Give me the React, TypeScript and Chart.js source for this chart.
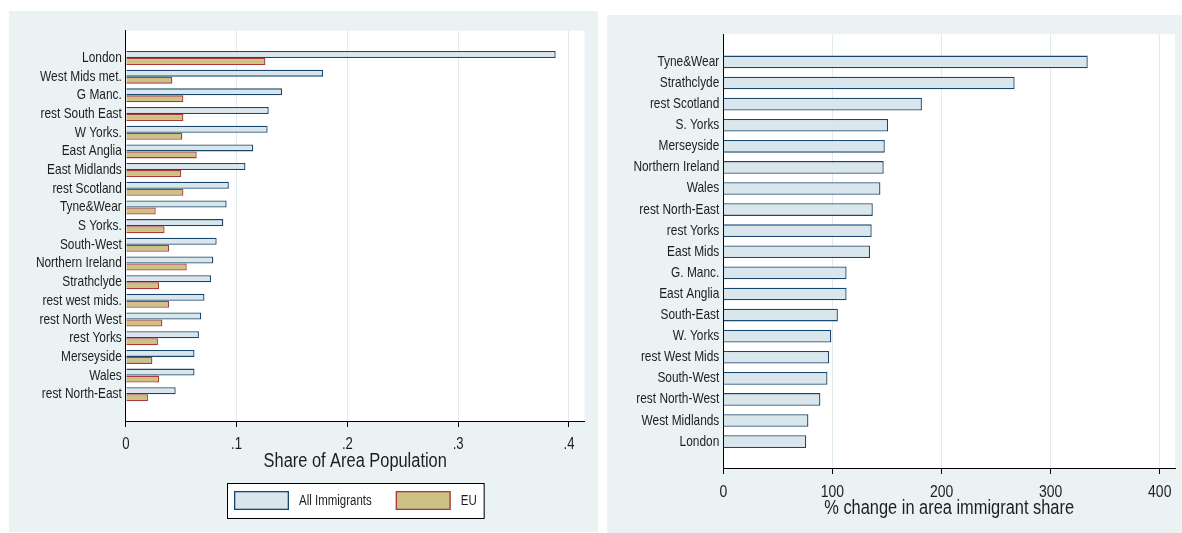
import React, { useEffect, useRef } from 'react';
import { Chart, registerables } from 'chart.js';

Chart.register(...registerables);

// ---------- data ----------
const leftCategories = [
  'London', 'West Mids met.', 'G Manc.', 'rest South East', 'W Yorks.', 'East Anglia',
  'East Midlands', 'rest Scotland', 'Tyne&Wear', 'S Yorks.', 'South-West', 'Northern Ireland',
  'Strathclyde', 'rest west mids.', 'rest North West', 'rest Yorks', 'Merseyside', 'Wales',
  'rest North-East',
];
const allImmigrantsShare = [
  0.388, 0.178, 0.141, 0.129, 0.128, 0.115, 0.108, 0.093, 0.091, 0.088, 0.082, 0.079,
  0.077, 0.071, 0.068, 0.066, 0.062, 0.062, 0.045,
];
const euShare = [
  0.126, 0.042, 0.052, 0.052, 0.051, 0.064, 0.050, 0.052, 0.027, 0.035, 0.039, 0.055,
  0.030, 0.039, 0.033, 0.029, 0.024, 0.030, 0.020,
];
const leftTickValues = [0, 0.1, 0.2, 0.3, 0.4];
const leftTickLabels = ['0', '.1', '.2', '.3', '.4'];
const leftSeriesNames = ['All Immigrants', 'EU'];
const leftAxisTitle = 'Share of Area Population';

const rightCategories = [
  'Tyne&Wear', 'Strathclyde', 'rest Scotland', 'S. Yorks', 'Merseyside', 'Northern Ireland',
  'Wales', 'rest North-East', 'rest Yorks', 'East Mids', 'G. Manc.', 'East Anglia',
  'South-East', 'W. Yorks', 'rest West Mids', 'South-West', 'rest North-West',
  'West Midlands', 'London',
];
const pctChangeShare = [
  334, 267, 182, 151, 148, 147, 144, 137, 136, 134.5, 113, 113, 105, 99, 97, 95.5, 89, 78, 76,
];
const rightTickValues = [0, 100, 200, 300, 400];
const rightTickLabels = ['0', '100', '200', '300', '400'];
const rightAxisTitle = '% change in area immigrant share';

// ---------- styles ----------
const FONT = '"Liberation Sans", Arial, sans-serif';
const NARROW = 0.82; // horizontal squeeze to mimic a narrow face
const PANEL_BG = '#eaf2f3';
const GRID = '#e1eaed';
const TEXT = '#1e1e1e';
const ALL_FILL = '#d9e6ec';
const ALL_BORDER = '#1a476f';
const EU_FILL = '#cbc283';
const EU_BORDER = '#a83a3c';

Chart.defaults.font.family = FONT;
Chart.defaults.color = TEXT;

const narrowText = {
  id: 'narrowText',
  beforeDraw(chart: any) {
    const ctx = chart.ctx;
    if (ctx.__narrow) return;
    const orig = ctx.fillText.bind(ctx);
    ctx.fillText = (text: string, x: number, y: number, maxWidth?: number) => {
      ctx.save();
      ctx.translate(x, y);
      ctx.scale(NARROW, 1);
      if (maxWidth !== undefined && maxWidth !== null) orig(text, 0, 0, maxWidth / NARROW);
      else orig(text, 0, 0);
      ctx.restore();
    };
    ctx.__narrow = true;
  },
};

const plotBg = {
  id: 'plotBg',
  beforeDraw(chart: any) {
    const { ctx, chartArea: a } = chart;
    ctx.save();
    ctx.fillStyle = '#ffffff';
    ctx.fillRect(a.left, a.top, a.right - a.left, a.bottom - a.top);
    ctx.restore();
  },
};

const framedLegend = {
  id: 'framedLegend',
  afterDraw(chart: any, _args: any, opts: any) {
    if (!opts || !opts.show) return;
    const { ctx, chartArea: a } = chart;
    ctx.save();
    ctx.font = `14px ${FONT}`;
    const items = chart.data.datasets.map((ds: any) => ({
      label: ds.label,
      fill: ds.backgroundColor,
      stroke: ds.borderColor,
      w: ctx.measureText(ds.label).width * NARROW,
    }));
    const padX = 7, sw = 55, sh = 19, gapT = 10, gapI = 24, h = 35;
    let total = padX * 2 + gapI * (items.length - 1);
    items.forEach((it: any) => { total += sw + gapT + it.w; });
    const cx = (a.left + a.right) / 2;
    const x0 = Math.round(cx - total / 2);
    const y0 = Math.round(a.bottom + opts.offsetY);
    ctx.fillStyle = '#ffffff';
    ctx.fillRect(x0, y0, total, h);
    ctx.strokeStyle = '#000000';
    ctx.lineWidth = 1;
    ctx.strokeRect(x0 + 0.5, y0 + 0.5, total, h);
    let x = x0 + padX;
    items.forEach((it: any) => {
      const sy = y0 + (h - sh) / 2;
      ctx.fillStyle = it.fill;
      ctx.fillRect(x, sy, sw, sh);
      ctx.strokeStyle = it.stroke;
      ctx.lineWidth = 1.3;
      ctx.strokeRect(x + 0.65, sy + 0.65, sw - 1.3, sh - 1.3);
      ctx.fillStyle = TEXT;
      ctx.textBaseline = 'middle';
      ctx.textAlign = 'left';
      ctx.fillText(it.label, x + sw + gapT, y0 + h / 2 + 0.5);
      x += sw + gapT + it.w + gapI;
    });
    ctx.restore();
  },
};

function makeXAxis(max: number, values: number[], labels: string[], title: string, fontSize: number, height: number) {
  return {
    type: 'linear',
    position: 'bottom',
    min: 0,
    max,
    afterBuildTicks: (s: any) => { s.ticks = values.map((v) => ({ value: v })); },
    ticks: {
      callback: (_v: any, i: number) => labels[i],
      font: { size: fontSize },
      color: TEXT,
      padding: 8,
      maxRotation: 0,
      autoSkip: false,
    },
    grid: { color: GRID, lineWidth: 1, tickColor: '#000000', tickLength: 6, tickWidth: 1 },
    border: { display: true, color: '#000000', width: 1 },
    title: { display: true, text: title, font: { size: 20 }, color: TEXT, padding: { top: 0, bottom: 0 } },
    afterFit: (s: any) => { s.height = height; },
  };
}

function makeYAxis(cats: string[], min: number, max: number, width: number) {
  return {
    type: 'linear',
    position: 'left',
    reverse: true,
    offset: false,
    bounds: 'data',
    min,
    max,
    afterBuildTicks: (s: any) => { s.ticks = cats.map((_c, i) => ({ value: i })); },
    ticks: {
      callback: (_v: any, i: number) => cats[i],
      font: { size: 14.5 },
      color: TEXT,
      padding: 4,
      autoSkip: false,
    },
    grid: { display: false, drawTicks: false, offset: false },
    border: { display: true, color: '#000000', width: 1 },
    afterFit: (s: any) => { s.width = width; },
  };
}

function leftConfig(): any {
  return {
    type: 'bar',
    data: {
      datasets: [
        {
          label: leftSeriesNames[0],
          data: allImmigrantsShare.map((v, i) => ({ x: v, y: i })),
          backgroundColor: ALL_FILL,
          borderColor: ALL_BORDER,
          borderWidth: 1.3,
        },
        {
          label: leftSeriesNames[1],
          data: euShare.map((v, i) => ({ x: v, y: i })),
          backgroundColor: EU_FILL,
          borderColor: EU_BORDER,
          borderWidth: 1.3,
        },
      ],
    },
    options: {
      indexAxis: 'y',
      animation: false,
      responsive: false,
      devicePixelRatio: 1,
      datasets: { bar: { categoryPercentage: 0.75, barPercentage: 1 } },
      layout: { padding: { left: 0, top: 19.7, right: 13.4, bottom: 59 } },
      scales: {
        x: makeXAxis(0.4141, leftTickValues, leftTickLabels, leftAxisTitle, 16, 52),
        y: makeYAxis(leftCategories, -1.46, 19.43, 116.8),
      },
      plugins: {
        legend: { display: false },
        tooltip: { enabled: false },
        framedLegend: { show: true, offsetY: 61.7 },
      },
    },
    plugins: [narrowText, plotBg, framedLegend],
  };
}

function rightConfig(): any {
  return {
    type: 'bar',
    data: {
      datasets: [
        {
          label: rightAxisTitle,
          data: pctChangeShare.map((v, i) => ({ x: v, y: i })),
          backgroundColor: ALL_FILL,
          borderColor: ALL_BORDER,
          borderWidth: 1.3,
        },
      ],
    },
    options: {
      indexAxis: 'y',
      animation: false,
      responsive: false,
      devicePixelRatio: 1,
      datasets: { bar: { categoryPercentage: 0.6, barPercentage: 1 } },
      layout: { padding: { left: 0, top: 19.3, right: 2, bottom: 12.6 } },
      scales: {
        x: makeXAxis(414, rightTickValues, rightTickLabels, rightAxisTitle, 17, 52.4),
        y: makeYAxis(rightCategories, -1.31, 19.25, 116.3),
      },
      plugins: {
        legend: { display: false },
        tooltip: { enabled: false },
        framedLegend: { show: false },
      },
    },
    plugins: [narrowText, plotBg, framedLegend],
  };
}

function Panel(props: { left: number; top: number; width: number; height: number; config: () => any }) {
  const ref = useRef<HTMLCanvasElement>(null);
  useEffect(() => {
    const chart = new Chart(ref.current as HTMLCanvasElement, props.config());
    return () => chart.destroy();
  }, []);
  return (
    <div
      style={{
        position: 'absolute',
        left: props.left,
        top: props.top,
        width: props.width,
        height: props.height,
        background: PANEL_BG,
      }}
    >
      <canvas
        ref={ref}
        width={props.width}
        height={props.height}
        style={{ display: 'block', width: props.width, height: props.height }}
      />
    </div>
  );
}

export default function App() {
  return (
    <div style={{ position: 'absolute', left: 0, top: 0, width: 1182, height: 533, overflow: 'hidden', background: '#ffffff' }}>
      <Panel left={9} top={11} width={589} height={521} config={leftConfig} />
      <Panel left={607} top={15} width={575} height={518} config={rightConfig} />
    </div>
  );
}
